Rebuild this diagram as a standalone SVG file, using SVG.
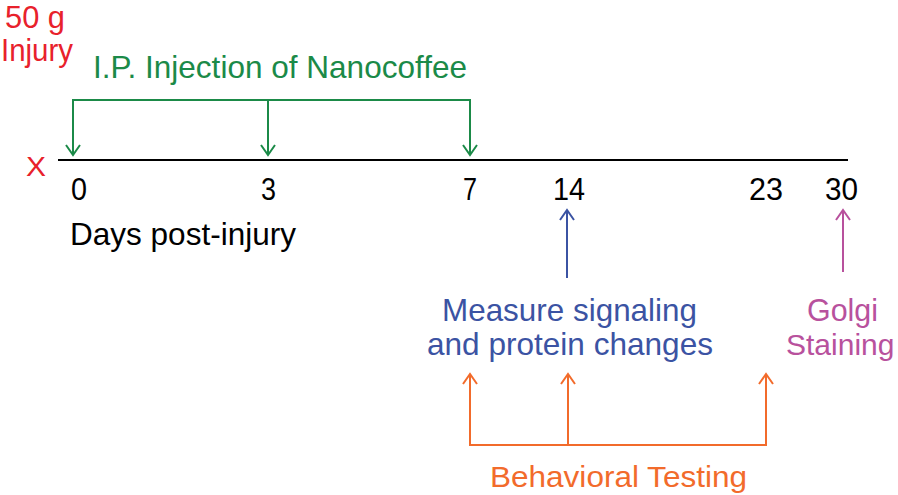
<svg xmlns="http://www.w3.org/2000/svg" width="898" height="495" viewBox="0 0 898 495">
<style>
text{font-family:"Liberation Sans",Arial,sans-serif;font-size:32px}
.dg{font-size:31px}
.red{fill:#e8212b}.grn{fill:#1b8a48}.blu{fill:#3b53a3}.pnk{fill:#b8519d}.org{fill:#f26b2b}.blk{fill:#000}
.ls{fill:none;stroke-width:2}
.g{stroke:#1b8a48}.b{stroke:#3b53a3}.p{stroke:#b8519d}.o{stroke:#f26b2b}.k{stroke:#000}
</style>
<rect width="898" height="495" fill="#fff"/>
<g id="connectors">
  <line class="ls k" x1="58" y1="160" x2="848" y2="160"/>
  <polyline class="ls g" points="73,155 73,100 470,100 470,155"/>
  <line class="ls g" x1="268" y1="100" x2="268" y2="155"/>
  <polyline class="ls g" points="66,145 73,155 80,145"/>
  <polyline class="ls g" points="261,145 268,155 275,145"/>
  <polyline class="ls g" points="463,145 470,155 477,145"/>
  <line class="ls b" x1="567" y1="278" x2="567" y2="210"/>
  <polyline class="ls b" points="560,220 567,210 574,220"/>
  <line class="ls p" x1="843" y1="272" x2="843" y2="210"/>
  <polyline class="ls p" points="836,220 843,210 850,220"/>
  <polyline class="ls o" points="470,374 470,445 766,445 766,374"/>
  <line class="ls o" x1="568" y1="445" x2="568" y2="374"/>
  <polyline class="ls o" points="463,384 470,374 477,384"/>
  <polyline class="ls o" points="561,384 568,374 575,384"/>
  <polyline class="ls o" points="759,384 766,374 773,384"/>
</g>
<g id="injury">
  <text class="red" x="5" y="28" textLength="60" lengthAdjust="spacingAndGlyphs">50 g</text>
  <text class="red" x="1" y="61" textLength="72" lengthAdjust="spacingAndGlyphs">Injury</text>
  <text class="red" x="26" y="176" textLength="20" lengthAdjust="spacingAndGlyphs" style="font-size:28px">X</text>
</g>
<g id="injection"><text class="grn" x="93" y="78" textLength="374" lengthAdjust="spacingAndGlyphs">I.P. Injection of Nanocoffee</text></g>
<g id="days">
  <text class="blk dg" x="71" y="200" textLength="16" lengthAdjust="spacingAndGlyphs">0</text>
  <text class="blk dg" x="261" y="200" textLength="15" lengthAdjust="spacingAndGlyphs">3</text>
  <text class="blk dg" x="463" y="200" textLength="14" lengthAdjust="spacingAndGlyphs">7</text>
  <text class="blk dg" x="553" y="200" textLength="32" lengthAdjust="spacingAndGlyphs">14</text>
  <text class="blk dg" x="749" y="200" textLength="34" lengthAdjust="spacingAndGlyphs">23</text>
  <text class="blk dg" x="825" y="200" textLength="33" lengthAdjust="spacingAndGlyphs">30</text>
  <text class="blk" x="70" y="245" textLength="226" lengthAdjust="spacingAndGlyphs">Days post-injury</text>
</g>
<g id="measure">
  <text class="blu" x="442" y="321" textLength="255" lengthAdjust="spacingAndGlyphs">Measure signaling</text>
  <text class="blu" x="427" y="355" textLength="286" lengthAdjust="spacingAndGlyphs">and protein changes</text>
</g>
<g id="golgi">
  <text class="pnk" x="807" y="321" textLength="71" lengthAdjust="spacingAndGlyphs">Golgi</text>
  <text class="pnk" x="786" y="355" style="font-size:30px">Staining</text>
</g>
<g id="behavioral"><text class="org" x="490" y="487" textLength="257" lengthAdjust="spacingAndGlyphs" style="font-size:30px">Behavioral Testing</text></g>
</svg>
